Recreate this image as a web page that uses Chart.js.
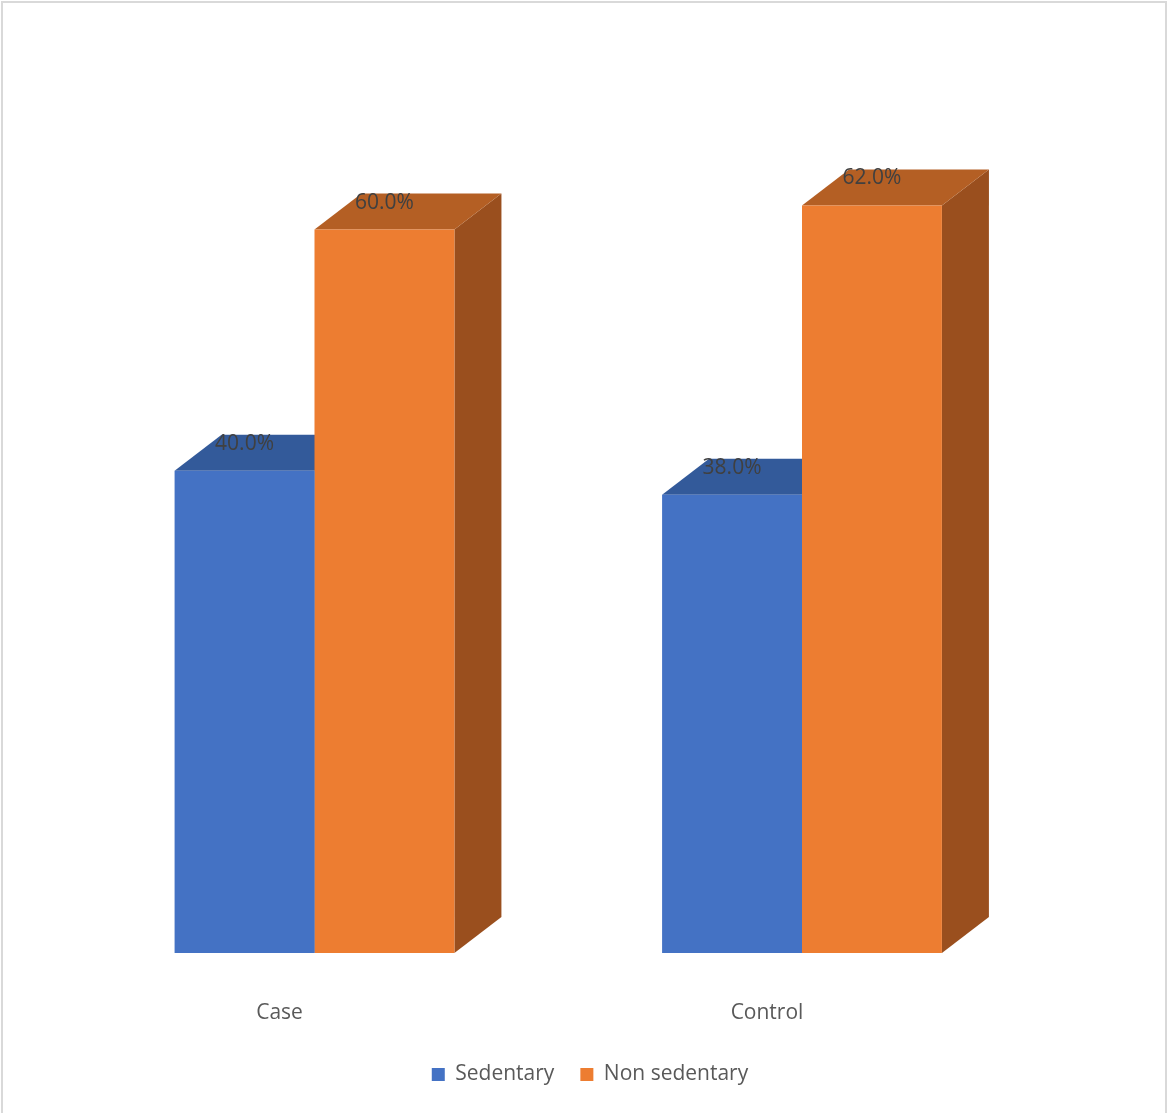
<!DOCTYPE html>
<html>
<head>
<meta charset="utf-8">
<script src="https://cdn.jsdelivr.net/npm/chart.js@4.4.1/dist/chart.umd.min.js"></script>
<style>
  html, body { margin: 0; padding: 0; background: #fff; }
  #wrap { width: 1168px; height: 1113px; }
</style>
</head>
<body>
<div id="wrap"><canvas id="myChart" width="1168" height="1113"></canvas></div>
<script>
// data
const categories = ['Case', 'Control']
const sedentary = [40.0, 38.0]
const nonSedentary = [60.0, 62.0]
const seriesNames = ['Sedentary', 'Non sedentary']

// front / top / side colours for each series
const faces = [
  { front: '#4472C4', top: '#335A9A', side: '#2D4F8A' },
  { front: '#ED7D31', top: '#B45F24', side: '#9A4F1E' }
]
const depthX = 47
const depthY = 36
const fontFamily = "'Open Sans', 'Noto Sans', sans-serif"

// white background and light frame
const framePlugin = {
  id: 'frame',
  beforeDraw(chart) {
    const ctx = chart.ctx
    ctx.save()
    ctx.fillStyle = '#fff'
    ctx.fillRect(0, 0, chart.width, chart.height)
    ctx.strokeStyle = '#d9d9d9'
    ctx.lineWidth = 2
    ctx.strokeRect(2, 2, chart.width - 4, chart.height + 10)
    ctx.restore()
  }
}

function poly(ctx, pts, color) {
  ctx.beginPath()
  ctx.moveTo(pts[0][0], pts[0][1])
  for (let i = 1; i < pts.length; i++) ctx.lineTo(pts[i][0], pts[i][1])
  ctx.closePath()
  ctx.fillStyle = color
  ctx.fill()
}

// top and right side of every bar, drawn before the fronts
const box3dPlugin = {
  id: 'box3d',
  beforeDatasetsDraw(chart) {
    const ctx = chart.ctx
    ctx.save()
    chart.data.datasets.forEach((ds, di) => {
      const meta = chart.getDatasetMeta(di)
      meta.data.forEach(bar => {
        const p = bar.getProps(['x', 'y', 'base', 'width'], true)
        const l = p.x - p.width / 2
        const r = p.x + p.width / 2
        poly(ctx, [[r, p.y], [r + depthX, p.y - depthY], [r + depthX, p.base - depthY], [r, p.base]], faces[di].side)
        poly(ctx, [[l, p.y], [r, p.y], [r + depthX, p.y - depthY], [l + depthX, p.y - depthY]], faces[di].top)
      })
    })
    ctx.restore()
  },
  afterDatasetsDraw(chart) {
    const ctx = chart.ctx
    ctx.save()
    ctx.font = '21px ' + fontFamily
    ctx.fillStyle = '#404040'
    ctx.textAlign = 'center'
    ctx.textBaseline = 'middle'
    chart.data.datasets.forEach((ds, di) => {
      const meta = chart.getDatasetMeta(di)
      meta.data.forEach((bar, i) => {
        const p = bar.getProps(['x', 'y'], true)
        ctx.fillText(ds.data[i].toFixed(1) + '%', p.x, p.y - 27)
      })
    })
    ctx.restore()
  }
}

const ctx = document.getElementById('myChart').getContext('2d')
const myChart = new Chart(ctx, {
  type: 'bar',
  data: {
    labels: categories,
    datasets: [
      { label: seriesNames[0], data: sedentary, backgroundColor: faces[0].front },
      { label: seriesNames[1], data: nonSedentary, backgroundColor: faces[1].front }
    ]
  },
  options: {
    responsive: false,
    animation: false,
    barPercentage: 1,
    categoryPercentage: 0.574,
    layout: { padding: { left: 70.75, right: 58.75, top: 109, bottom: 18 } },
    scales: {
      x: {
        grid: { display: false, drawTicks: false },
        border: { display: false },
        ticks: {
          padding: 47,
          labelOffset: -35,
          color: '#595959',
          font: { family: fontFamily, size: 21 }
        },
        afterFit(scale) { scale.height = 85 }
      },
      y: {
        position: 'right',
        min: 0,
        max: 70,
        grid: { display: false, drawTicks: false },
        border: { display: false },
        ticks: { display: false },
        afterFit(scale) { scale.width = 63.5 }
      }
    },
    plugins: {
      tooltip: { enabled: false },
      legend: {
        position: 'bottom',
        labels: {
          boxWidth: 13,
          boxHeight: 13,
          padding: 26,
          color: '#595959',
          font: { family: fontFamily, size: 21 }
        }
      }
    }
  },
  plugins: [framePlugin, box3dPlugin]
})
</script>
</body>
</html>
